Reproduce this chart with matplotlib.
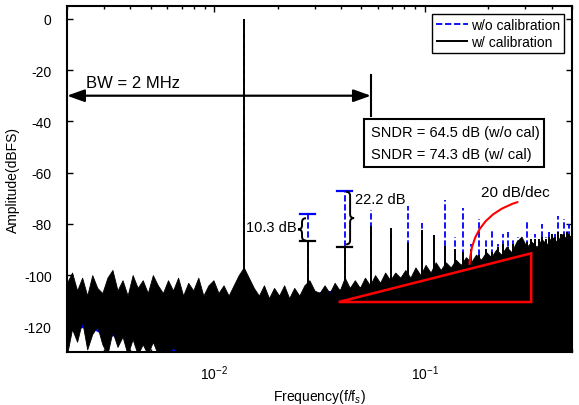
import numpy as np
import matplotlib
matplotlib.use("Agg")
import matplotlib.pyplot as plt
from matplotlib.patches import Polygon, Rectangle, PathPatch, FancyArrowPatch
from matplotlib.path import Path
from matplotlib.transforms import IdentityTransform

plt.rcParams['font.family'] = ['Liberation Sans', 'DejaVu Sans']
plt.rcParams['mathtext.fontset'] = 'custom'
plt.rcParams['mathtext.rm'] = 'Liberation Sans'
plt.rcParams['mathtext.it'] = 'Liberation Sans:italic'
plt.rcParams['axes.unicode_minus'] = False

# tone + harmonics (f/fs), levels in dBFS
harm_freq = [0.01387, 0.02774, 0.04161, 0.05548, 0.06935, 0.08322, 0.09709, 0.1110,
             0.1248, 0.1387, 0.1526, 0.1664, 0.1803, 0.1942, 0.2081, 0.2219,
             0.2358, 0.2497, 0.2635, 0.2774, 0.2913, 0.3051, 0.3190, 0.3329,
             0.3468, 0.3606, 0.3745, 0.3884, 0.4022, 0.4161, 0.4300, 0.4438,
             0.4577, 0.4716, 0.4855, 0.4993]
harm_wo = [0.0, -76.3, -67.0, -74.5, -84.0, -73.2, -79.5, -84.5,
           -70.6, -85.0, -73.7, -88.0, -78.0, -86.0, -82.0, -88.0,
           -84.0, -83.0, -86.0, -85.0, -88.0, -79.0, -86.0, -84.0,
           -87.0, -80.0, -85.0, -83.0, -86.0, -84.0, -77.0, -84.0,
           -78.0, -82.0, -80.0, -83.0]
harm_w = [0.0, -86.5, -89.0, -80.8, -81.5, -87.3, -82.3, -84.2,
          -88.5, -90.0, -91.0, -90.0, -92.0, -90.0, -91.0, -89.0,
          -88.0, -89.0, -88.0, -87.0, -87.0, -87.0, -86.0, -86.0,
          -86.0, -85.0, -86.0, -85.0, -84.0, -85.0, -83.0, -84.0,
          -84.0, -83.0, -84.0, -85.0]
gap_labels = ['10.3 dB', '22.2 dB']

# noise floor envelope (w/ calibration), log-spaced from 0.002 to 0.5
noise_top_w = [-103, -99, -106, -101, -108, -100, -105, -107, -101, -98,
               -106, -102, -108, -100, -105, -102, -107, -100, -104, -107,
               -102, -106, -101, -108, -103, -106, -101, -108, -104, -102,
               -107, -104, -108, -104, -100, -97, -101, -105, -108, -104,
               -109, -105, -108, -104, -109, -105, -108, -104, -102, -106,
               -107, -104, -107, -103, -106, -101, -105, -102, -105, -101,
               -104, -100, -103, -99, -102, -99, -101, -98, -101, -97,
               -100, -96, -99, -95, -98, -95, -97, -94, -96, -93,
               -95, -92, -94, -91, -93, -90, -92, -89, -91, -87,
               -85, -89, -87, -89, -86, -88, -85, -87, -84, -86, -84]
noise_bot_w = [-131, -121, -126, -118, -129, -123, -120, -127, -131, -122,
               -128, -124, -131, -125, -131, -127, -131, -126, -131, -129,
               -131, -128] + [-131] * 79
# noise floor (w/o calibration), coarser
noise_top_wo = [-108, -108, -109, -108, -109, -109, -110, -110, -110, -110,
                -109, -109, -107, -106, -105, -104, -102, -101, -99, -98,
                -96, -94, -92, -91, -90, -89]
noise_bot_wo = [-122, -120, -124, -123, -125, -131, -131, -131, -131, -131,
                -131, -131, -131, -131, -131, -131, -131, -131, -131, -131,
                -131, -131, -131, -131, -131, -131]

sndr_wo, sndr_w = 64.5, 74.3
bw_edge = 0.0555   # 2 MHz
slope_tri = [(0.039, -110.5), (0.32, -110.5), (0.32, -91.5)]

fig = plt.figure(figsize=(5.79, 4.06), dpi=100)
ax = fig.add_axes([67 / 579, 53 / 406, 505 / 579, 346 / 406])
ax.set_xscale('log')
ax.set_xlim(0.002, 0.5)
ax.set_ylim(-130, 5)

nf_w = np.geomspace(0.002, 0.5, len(noise_top_w))
nf_wo = np.geomspace(0.002, 0.5, len(noise_top_wo))

ax.fill_between(nf_wo, noise_bot_wo, noise_top_wo, color='blue', lw=0, zorder=1)
ax.vlines(harm_freq, -131, harm_wo, colors='blue', lw=1.3,
          linestyles=(0, (3.5, 1.5)), zorder=2, label='w/o calibration')
ax.fill_between(nf_w, noise_bot_w, noise_top_w, color='black', lw=0.6, zorder=3)
ax.vlines(harm_freq, -131, harm_w, colors='black', lw=1.4, zorder=4,
          label='w/ calibration')

# caps on 2nd / 3rd harmonics
k = 10 ** (7.5 / 211)
for i in (1, 2):
    f = harm_freq[i]
    ax.plot([f / k, f * k], [harm_wo[i]] * 2, color='blue', lw=1.6, zorder=5)
    ax.plot([f / k, f * k], [harm_w[i]] * 2, color='black', lw=1.6, zorder=5)


def brace(f, y_hi, y_lo, side, width=8, gap=1.5):
    (xd, yt), = ax.transData.transform([(f, y_hi)])
    yb = ax.transData.transform([(f, y_lo)])[0][1]
    xb = xd + side * gap
    xm = xb + side * width / 2
    xt = xb + side * width
    ym = (yt + yb) / 2
    r = min(width / 2, (yt - yb) / 4)
    verts = [(xb, yt), (xm, yt), (xm, yt - r), (xm, ym + r), (xm, ym), (xt, ym),
             (xm, ym), (xm, ym - r), (xm, yb + r), (xm, yb), (xb, yb)]
    codes = [Path.MOVETO, Path.CURVE3, Path.CURVE3, Path.LINETO, Path.CURVE3,
             Path.CURVE3, Path.CURVE3, Path.CURVE3, Path.LINETO, Path.CURVE3,
             Path.CURVE3]
    ax.add_patch(PathPatch(Path(verts, codes), fc='none', ec='black', lw=1.4,
                           transform=IdentityTransform(), zorder=6))


brace(harm_freq[1], harm_wo[1] - 1.5, harm_w[1], -1)
brace(harm_freq[2], harm_wo[2] - 0.5, harm_w[2] + 1, 1)
ax.annotate(gap_labels[0], xy=(harm_freq[1], (harm_wo[1] + harm_w[1]) / 2),
            xytext=(-11, 0), textcoords='offset pixels', ha='right',
            va='center', fontsize=10.5)
ax.annotate(gap_labels[1], xy=(harm_freq[2], harm_wo[2]), xytext=(10, -8),
            textcoords='offset pixels', ha='left', va='center', fontsize=10.5)

# bandwidth arrow
ax.annotate('', xy=(bw_edge, -30), xytext=(0.002, -30),
            arrowprops=dict(arrowstyle='<|-|>,head_length=0.7,head_width=0.25',
                            mutation_scale=15, color='black', lw=1.6,
                            shrinkA=0, shrinkB=0), zorder=7)
ax.plot([bw_edge, bw_edge], [-22, -38], color='black', lw=1.5, zorder=7)
ax.text(0.00245, -25, 'BW = 2 MHz', fontsize=12, va='center', ha='left')

# SNDR box
ax.add_patch(Rectangle((0.588, 0.535), 0.3566, 0.138, transform=ax.transAxes,
                       fc='white', ec='black', lw=1.5, zorder=8))
ax.text(0.602, 0.636, f'SNDR = {sndr_wo} dB (w/o cal)', transform=ax.transAxes,
        fontsize=10.5, va='center', ha='left', zorder=9)
ax.text(0.602, 0.572, f'SNDR = {sndr_w} dB (w/ cal)', transform=ax.transAxes,
        fontsize=10.5, va='center', ha='left', zorder=9)

# 20 dB/dec slope guide
ax.add_patch(Polygon(slope_tri, closed=True, fc='none', ec='red', lw=1.8, zorder=8))
ax.add_patch(FancyArrowPatch((0.2838, -71.2), (0.1629, -96.8), arrowstyle='-',
                             connectionstyle='arc3,rad=0.37', color='red', lw=1.5,
                             zorder=8))
ax.text(0.27, -67.4, '20 dB/dec', fontsize=11, ha='center', va='center')

ax.set_yticks(np.arange(-120, 1, 20))
ax.tick_params(which='both', direction='in', top=True, right=True, labelsize=10)
ax.tick_params(which='major', length=4.5, width=1, pad=8)
ax.tick_params(axis='y', pad=11)
ax.tick_params(which='minor', length=2.5, width=1)
for s in ax.spines.values():
    s.set_linewidth(1.5)

ax.set_xlabel('Frequency(f/f$_s$)', fontsize=10, labelpad=4)
ax.set_ylabel('Amplitude(dBFS)', fontsize=10, labelpad=3)

leg = ax.legend(loc='upper right', fontsize=10, handlelength=2.3,
                handletextpad=0.2, borderpad=0.3, labelspacing=0.2,
                fancybox=False, framealpha=1, borderaxespad=0.55)
leg.get_frame().set_edgecolor('black')
leg.get_frame().set_linewidth(1.0)
leg.set_zorder(10)

fig.savefig('out.png', dpi=100)
